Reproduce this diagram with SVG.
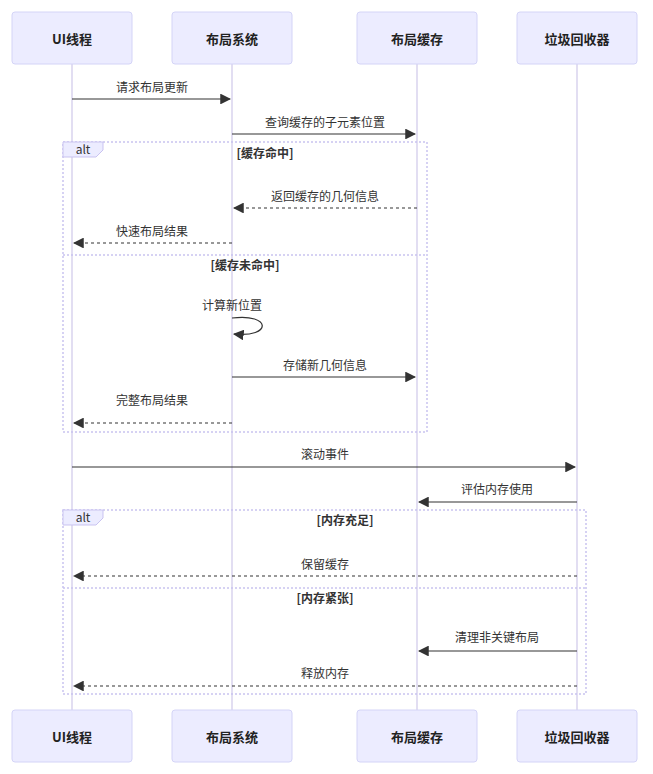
<svg xmlns="http://www.w3.org/2000/svg" width="653" height="774" viewBox="0 0 653 774">
<defs>
<style>
.actor{fill:#ECECFF;stroke:#D4D4F7;stroke-width:1}
.at{font-family:"Noto Sans CJK SC","Liberation Sans",sans-serif;font-size:13px;font-weight:bold;fill:#222;text-anchor:middle;dominant-baseline:central}
.life{stroke:#D8D3EE;stroke-width:1.5}
.msg{stroke:#333;stroke-width:1.2;fill:none}
.dash{stroke-dasharray:3,3}
.ml{font-family:"Noto Sans CJK SC","Liberation Sans",sans-serif;font-size:12px;fill:#333;text-anchor:middle}
.loop{fill:none;stroke:#C9C3F0;stroke-width:1.5;stroke-dasharray:2,2}
.tab{fill:#ECECFF;stroke:#C9C3F0}
.lt{font-family:"Noto Sans CJK SC","Liberation Sans",sans-serif;font-size:12px;font-weight:bold;fill:#333;text-anchor:middle}
</style>
<marker id="ah" viewBox="0 0 10 10" refX="9" refY="5" markerWidth="9" markerHeight="9" orient="auto"><path d="M0,0 L10,5 L0,10 z" fill="#333"/></marker>
</defs>
<g id="lifelines">
<line class="life" x1="72" y1="64" x2="72" y2="710"/>
<line class="life" x1="232" y1="64" x2="232" y2="710"/>
<line class="life" x1="417" y1="64" x2="417" y2="710"/>
<line class="life" x1="577" y1="64" x2="577" y2="710"/>
</g>
<g id="actor-ui"><rect class="actor" x="12" y="12" width="120" height="52" rx="3"/><text class="at" x="72" y="38">UI线程</text><rect class="actor" x="12" y="710" width="120" height="52" rx="3"/><text class="at" x="72" y="736">UI线程</text></g>
<g id="actor-layout"><rect class="actor" x="172" y="12" width="120" height="52" rx="3"/><text class="at" x="232" y="38">布局系统</text><rect class="actor" x="172" y="710" width="120" height="52" rx="3"/><text class="at" x="232" y="736">布局系统</text></g>
<g id="actor-cache"><rect class="actor" x="357" y="12" width="120" height="52" rx="3"/><text class="at" x="417" y="38">布局缓存</text><rect class="actor" x="357" y="710" width="120" height="52" rx="3"/><text class="at" x="417" y="736">布局缓存</text></g>
<g id="actor-gc"><rect class="actor" x="517" y="12" width="120" height="52" rx="3"/><text class="at" x="577" y="38">垃圾回收器</text><rect class="actor" x="517" y="710" width="120" height="52" rx="3"/><text class="at" x="577" y="736">垃圾回收器</text></g>
<g id="alt1">
<rect class="loop" x="63" y="142" width="364" height="290"/>
<path class="tab" d="M63,142 H103 V150 L96,157 H63 Z"/>
<text class="lt" x="83" y="154" style="font-weight:normal">alt</text>
<text class="lt" x="265" y="158">[缓存命中]</text>
<line class="loop" x1="63" y1="255" x2="427" y2="255"/>
<text class="lt" x="245" y="270">[缓存未命中]</text>
</g>
<g id="alt2">
<rect class="loop" x="63" y="510" width="523" height="184"/>
<path class="tab" d="M63,510 H103 V518 L96,525 H63 Z"/>
<text class="lt" x="83" y="522" style="font-weight:normal">alt</text>
<text class="lt" x="345" y="525">[内存充足]</text>
<line class="loop" x1="63" y1="588" x2="586" y2="588"/>
<text class="lt" x="325" y="603">[内存紧张]</text>
</g>
<g id="connectors">
<line class="msg" x1="72" y1="99" x2="230" y2="99" marker-end="url(#ah)"/><text class="ml" x="152" y="92">请求布局更新</text>
<line class="msg" x1="232" y1="134" x2="415" y2="134" marker-end="url(#ah)"/><text class="ml" x="325" y="127">查询缓存的子元素位置</text>
<line class="msg dash" x1="417" y1="208" x2="234" y2="208" marker-end="url(#ah)"/><text class="ml" x="325" y="201">返回缓存的几何信息</text>
<line class="msg dash" x1="232" y1="243" x2="74" y2="243" marker-end="url(#ah)"/><text class="ml" x="152" y="236">快速布局结果</text>
<path class="msg" d="M232,318 C272,313 272,338 234,334" marker-end="url(#ah)"/><text class="ml" x="232" y="310">计算新位置</text>
<line class="msg" x1="232" y1="377" x2="415" y2="377" marker-end="url(#ah)"/><text class="ml" x="325" y="370">存储新几何信息</text>
<line class="msg dash" x1="232" y1="423" x2="74" y2="423" marker-end="url(#ah)"/><text class="ml" x="152" y="405">完整布局结果</text>
<line class="msg" x1="72" y1="467" x2="575" y2="467" marker-end="url(#ah)"/><text class="ml" x="325" y="459">滚动事件</text>
<line class="msg" x1="577" y1="502" x2="419" y2="502" marker-end="url(#ah)"/><text class="ml" x="497" y="494">评估内存使用</text>
<line class="msg dash" x1="577" y1="576" x2="74" y2="576" marker-end="url(#ah)"/><text class="ml" x="325" y="569">保留缓存</text>
<line class="msg" x1="577" y1="651" x2="419" y2="651" marker-end="url(#ah)"/><text class="ml" x="497" y="642">清理非关键布局</text>
<line class="msg dash" x1="577" y1="686" x2="74" y2="686" marker-end="url(#ah)"/><text class="ml" x="325" y="678">释放内存</text>
</g>
</svg>
